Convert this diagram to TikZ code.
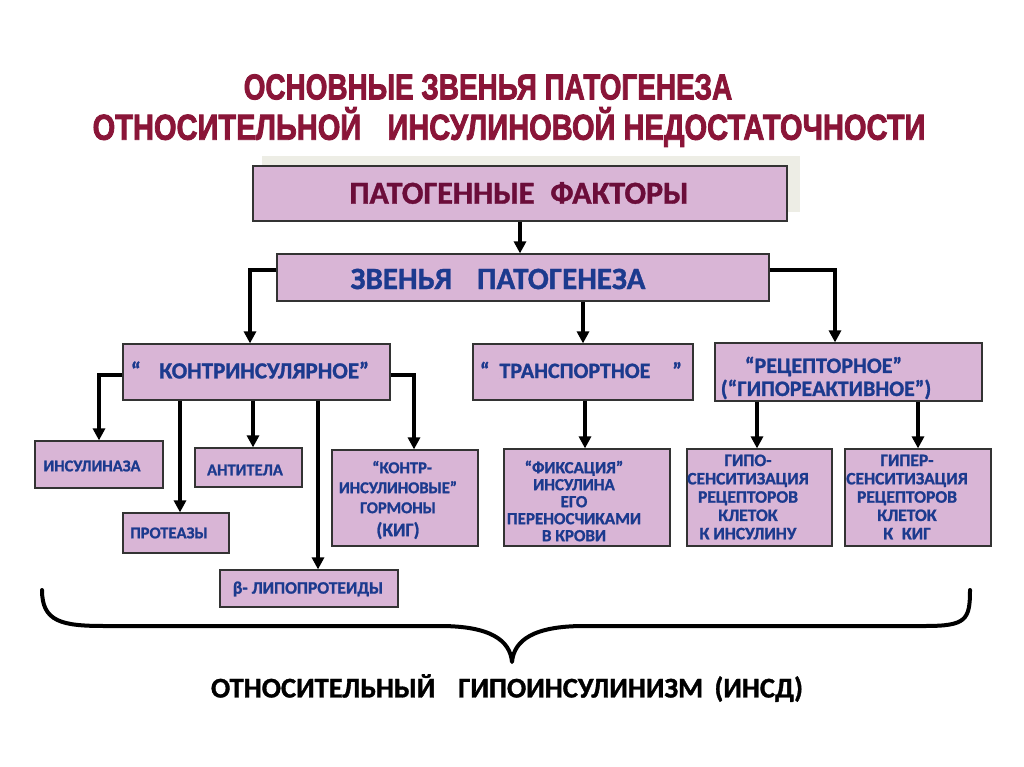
\documentclass[tikz,border=0pt]{standalone}
\usepackage{fontspec}
\setmainfont{Carlito}[BoldFeatures={FakeBold=1.2}]
\newfontfamily\titlefont{Liberation Sans}[BoldFeatures={FakeBold=2.5}]
\usetikzlibrary{arrows.meta}
\definecolor{boxfill}{HTML}{D9B5D6}
\definecolor{txtblue}{HTML}{1C3A8E}
\definecolor{titlered}{HTML}{8A1538}
\definecolor{factred}{HTML}{6B0D3A}
\definecolor{shadowc}{HTML}{EDEDE5}
\newcommand{\fs}[2]{\fontsize{#1}{#2}\selectfont}
\begin{document}
\begin{tikzpicture}[x=1pt,y=-1pt,
 pbox/.style={draw=black!80,line width=1.2pt,fill=boxfill,inner sep=0pt},
 arr/.style={line width=3.5pt,-{Triangle[length=12pt,width=12pt]}},
 btxt/.style={text=txtblue,font=\bfseries\fs{15}{17},align=center,inner sep=0pt},
 ttl/.style={text=titlered,font=\titlefont\bfseries\fs{36}{36},inner sep=0pt},
 brace/.style={line width=4pt,line cap=round,line join=round}
]
\useasboundingbox (0,0) rectangle (1024,767);
\fill[white] (0,0) rectangle (1024,767);

% title
\node[ttl] (t1) at (488,87) {\scalebox{0.775}[1]{ОСНОВНЫЕ ЗВЕНЬЯ ПАТОГЕНЕЗА}};
\node[ttl] (t2) at (509,127) {\scalebox{0.807}[1]{ОТНОСИТЕЛЬНОЙ\hspace{0.9em}ИНСУЛИНОВОЙ НЕДОСТАТОЧНОСТИ}};

% shadow and boxes
\fill[shadowc] (262,156) rectangle (800,212);
\node[pbox,minimum width=534,minimum height=55] (fact) at (520,193.5) {};
\node[pbox,minimum width=492,minimum height=47] (zven) at (523,277.5) {};
\node[pbox,minimum width=267,minimum height=56] (kontr) at (256.5,372) {};
\node[pbox,minimum width=220,minimum height=56] (trans) at (583,372) {};
\node[pbox,minimum width=267,minimum height=58] (recep) at (848.5,372) {};
\node[pbox,minimum width=128,minimum height=47] (insul) at (99,464.5) {};
\node[pbox,minimum width=106,minimum height=40] (prot) at (176,533) {};
\node[pbox,minimum width=107,minimum height=39] (anti) at (248.5,467.5) {};
\node[pbox,minimum width=146,minimum height=96] (kig) at (405,498) {};
\node[pbox,minimum width=178,minimum height=37] (lipo) at (309,588.5) {};
\node[pbox,minimum width=166,minimum height=97] (fix) at (587,497.5) {};
\node[pbox,minimum width=145,minimum height=97] (hypo) at (759.5,497.5) {};
\node[pbox,minimum width=146,minimum height=97] (hyper) at (918,497.5) {};

% texts
\node[btxt,text=factred,font=\bfseries\fs{32}{34}] (factT) at (519,193) {ПАТОГЕННЫЕ\hspace{0.5em}ФАКТОРЫ};
\node[btxt,font=\bfseries\fs{31}{33}] (zvenT) at (498,279) {ЗВЕНЬЯ\hspace{0.8em}ПАТОГЕНЕЗА};
\node[btxt,font=\bfseries\fs{23}{25}] (kontrT) at (250,370) {“\hspace{0.8em}КОНТРИНСУЛЯРНОЕ”};
\node[btxt,font=\bfseries\fs{22}{24}] (transT) at (581,370) {“\hspace{0.45em}ТРАНСПОРТНОЕ\hspace{1em}”};
\node[btxt,font=\bfseries\fs{22}{23},align=left] (recepT) at (826,378) {\hspace{1.1em}“РЕЦЕПТОРНОЕ”\\(“ГИПОРЕАКТИВНОЕ”)};
\node[btxt,font=\bfseries\fs{16.5}{18}] (insulT) at (92,466) {ИНСУЛИНАЗА};
\node[btxt,font=\bfseries\fs{16.5}{18}] (protT) at (169,533) {ПРОТЕАЗЫ};
\node[btxt,font=\bfseries\fs{16.5}{18}] (antiT) at (245,470) {АНТИТЕЛА};
\node[btxt,font=\bfseries\fs{17.5}{18}] (lipoT) at (308,589) {β- ЛИПОПРОТЕИДЫ};
\node[btxt,font=\bfseries\fs{16.5}{20}] (kigT) at (398,500) {\hspace{0.5em}“КОНТР-\\ИНСУЛИНОВЫЕ”\\ГОРМОНЫ\\[3pt]{\fs{19}{20}(КИГ)}};
\node[btxt,font=\bfseries\fs{17}{17}] (fixT) at (574,501) {“ФИКСАЦИЯ”\\ИНСУЛИНА\\ЕГО\\ПЕРЕНОСЧИКАМИ\\В КРОВИ};
\node[btxt,font=\bfseries\fs{17.5}{18.3}] (hypoT) at (748,497) {ГИПО-\\СЕНСИТИЗАЦИЯ\\РЕЦЕПТОРОВ\\КЛЕТОК\\К ИНСУЛИНУ};
\node[btxt,font=\bfseries\fs{17.5}{18.3}] (hyperT) at (907,497) {ГИПЕР-\\СЕНСИТИЗАЦИЯ\\РЕЦЕПТОРОВ\\КЛЕТОК\\К\hspace{0.5em}КИГ};

% connectors
\draw[arr] (fact.south) -- (fact.south |- zven.north);
\draw[arr] ([yshift=7.5pt]zven.west) -| ([xshift=-6.5pt]kontr.north);
\draw[arr] ([yshift=7.5pt]zven.east) -| ([xshift=-13.5pt]recep.north);
\draw[arr] (trans.north |- zven.south) -- (trans.north);
\draw[arr] ([yshift=-3pt]kontr.west) -| (insul.north);
\draw[arr] ([yshift=-3pt]kontr.east) -| ([xshift=9pt]kig.north);
\draw[arr] ([xshift=4pt]prot.north |- kontr.south) -- ([xshift=4pt]prot.north);
\draw[arr] ([xshift=4.5pt]anti.north |- kontr.south) -- ([xshift=4.5pt]anti.north);
\draw[arr] ([xshift=9pt]lipo.north |- kontr.south) -- ([xshift=9pt]lipo.north);
\draw[arr] ([xshift=2pt]trans.south) -- ([xshift=2pt]trans.south |- fix.north);
\draw[arr] ([xshift=-2.5pt]hypo.north |- recep.south) -- ([xshift=-2.5pt]hypo.north);
\draw[arr] (hyper.north |- recep.south) -- (hyper.north);

% brace
\coordinate (bl) at (42,590);
\coordinate (br) at (970,590);
\coordinate (bt) at (512,662);
\draw[brace] (bl) .. controls (42,622) and (62,626) .. (105,626) -- (440,626)
  .. controls (490,626) and (510,640) .. (bt)
  .. controls (514,640) and (534,626) .. (584,626) -- (925,626)
  .. controls (966,626) and (970,620) .. (br);

\node[inner sep=0pt,font=\bfseries\fs{28.5}{30}] (bottom) at (507,688) {ОТНОСИТЕЛЬНЫЙ\hspace{0.8em}ГИПОИНСУЛИНИЗМ\hspace{0.4em}(ИНСД)};
\end{tikzpicture}
\end{document}
